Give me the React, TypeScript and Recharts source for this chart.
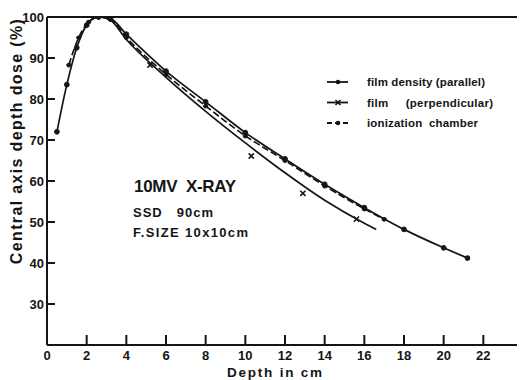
import React from 'react';
import { ComposedChart, Line, Scatter, XAxis, YAxis, ReferenceLine, Legend, Label } from 'recharts';

// ---- data ----
const depthParallel = [0.5, 1, 1.5, 2, 2.6, 3.2, 4, 6, 8, 10, 12, 14, 16, 18, 20, 21.2];
const doseParallel = [72, 83.5, 92.5, 98, 100, 99.6, 95.8, 86.8, 79.3, 71.8, 65.4, 59.2, 53.5, 48.2, 43.7, 41.2];

const depthPerp = [2, 2.6, 3.2, 4, 6, 8, 10, 12, 14, 16, 16.6];
const dosePerp = [98.6, 100, 99.2, 94.5, 85.3, 77, 69.3, 62, 55.3, 49.7, 48.2];
const depthPerpMarks = [5.2, 10.3, 12.9, 15.6];
const dosePerpMarks = [88.3, 66.1, 57, 50.7];

const depthIon = [1.1, 1.6, 2.1, 2.6, 3.2, 4, 6, 8, 10, 12, 14, 16, 17];
const doseIon = [88.3, 95, 98.8, 100, 99.4, 95, 86, 78.3, 71, 65, 58.8, 53.2, 50.7];

const xTicks = [0, 2, 4, 6, 8, 10, 12, 14, 16, 18, 20, 22];
const yTicks = [30, 40, 50, 60, 70, 80, 90, 100];
const xTickMarks = [2, 4, 6, 8, 10, 12, 14, 16, 18, 20, 22];
const yTickMarks = [30, 40, 50, 60, 70, 80, 90];

const seriesNames = ['film density (parallel)', 'film     (perpendicular)', 'ionization  chamber'];
const xTitle = 'Depth in cm';
const yTitle = 'Central axis depth dose (%)';
const noteLines = ['10MV  X-RAY', 'SSD   90cm', 'F.SIZE 10x10cm'];

const zip = (xs: number[], ys: number[]) => xs.map((d, i) => ({ depth: d, dose: ys[i] }));
const parallelData = zip(depthParallel, doseParallel);
const perpData = zip(depthPerp, dosePerp);
const perpMarkData = zip(depthPerpMarks, dosePerpMarks);
const ionData = zip(depthIon, doseIon);

const X_MIN = 0;
const X_MAX = 24;
const Y_MIN = 20;
const Y_MAX = 100;

// chart layout
const W = 517;
const H = 372;
const MARGIN = { top: 9, right: 2, bottom: 0, left: 0 };
const Y_AXIS_W = 39;
const X_AXIS_H = 35;
const PL = MARGIN.left + Y_AXIS_W;
const PR = W - MARGIN.right;
const PT = MARGIN.top;
const PB = H - MARGIN.bottom - X_AXIS_H;
const sx = (v: number) => PL + ((v - X_MIN) / (X_MAX - X_MIN)) * (PR - PL);
const sy = (v: number) => PB - ((v - Y_MIN) / (Y_MAX - Y_MIN)) * (PB - PT);

const INK = '#151515';
const FONT = '"Liberation Sans", Arial, sans-serif';

const XTick = (props: any) => {
  const x = Number(props.x);
  const y = Number(props.y);
  return (
    <text x={x} y={y + 15} textAnchor="middle" fontFamily={FONT} fontSize={13} fontWeight={700} fill={INK}>
      {props.payload?.value}
    </text>
  );
};

const YTick = (props: any) => {
  const x = Number(props.x);
  const y = Number(props.y);
  return (
    <text x={x - 3} y={y + 4.5} textAnchor="end" fontFamily={FONT} fontSize={13} fontWeight={700} fill={INK}>
      {props.payload?.value}
    </text>
  );
};

const XMark = (props: any) => {
  const { cx, cy } = props;
  if (cx == null || cy == null) return <g />;
  const s = 2.6;
  return (
    <path
      d={`M${cx - s},${cy - s}L${cx + s},${cy + s}M${cx - s},${cy + s}L${cx + s},${cy - s}`}
      stroke={INK}
      strokeWidth={1.6}
      fill="none"
    />
  );
};

const LegendBox = () => {
  const rows = [
    { dash: undefined as string | undefined, mark: 'dot' },
    { dash: undefined as string | undefined, mark: 'x' },
    { dash: '5 3', mark: 'dot' },
  ];
  const textWidths = [118, 126, 111];
  return (
    <svg width={190} height={60} style={{ display: 'block', overflow: 'visible' }}>
      {rows.map((r, i) => {
        const cy = 8 + i * 20.5;
        return (
          <g key={i}>
            <line x1={1} x2={22} y1={cy} y2={cy} stroke={INK} strokeWidth={1.8} strokeDasharray={r.dash} />
            {r.mark === 'dot' ? (
              <circle cx={12} cy={cy} r={2.3} fill={INK} />
            ) : (
              <path d={`M${9.5},${cy - 2.5}L${14.5},${cy + 2.5}M${9.5},${cy + 2.5}L${14.5},${cy - 2.5}`} stroke={INK} strokeWidth={1.6} />
            )}
            <text
              x={41}
              y={cy + 4}
              fontFamily={FONT}
              fontSize={11.5}
              fontWeight={700}
              fill={INK}
              textLength={textWidths[i]}
              lengthAdjust="spacing"
              style={{ whiteSpace: 'pre' }}
            >
              {seriesNames[i]}
            </text>
          </g>
        );
      })}
    </svg>
  );
};

export default function App() {
  return (
    <div style={{ position: 'relative', width: W, height: H }}>
      <ComposedChart width={W} height={H} margin={MARGIN}>
        <XAxis
          type="number"
          dataKey="depth"
          domain={[X_MIN, X_MAX]}
          ticks={xTicks}
          interval={0}
          tickSize={0}
          tickMargin={0}
          tickLine={false}
          tick={XTick}
          axisLine={{ stroke: INK, strokeWidth: 2 }}
          height={X_AXIS_H}
          allowDataOverflow
        >
          <Label
            content={(p: any) => {
              const vb = p.viewBox || { x: PL, y: PB, width: PR - PL };
              return (
                <text
                  x={vb.x + vb.width * 0.478}
                  y={vb.y + 32}
                  textAnchor="middle"
                  fontFamily={FONT}
                  fontSize={13.5}
                  fontWeight={700}
                  fill={INK}
                  textLength={95}
                  lengthAdjust="spacing"
                >
                  {xTitle}
                </text>
              );
            }}
          />
        </XAxis>
        <YAxis
          type="number"
          dataKey="dose"
          domain={[Y_MIN, Y_MAX]}
          ticks={yTicks}
          interval={0}
          width={Y_AXIS_W}
          tickSize={0}
          tickMargin={0}
          tickLine={false}
          tick={YTick}
          axisLine={{ stroke: INK, strokeWidth: 2 }}
          allowDataOverflow
        >
          <Label
            content={(p: any) => {
              const vb = p.viewBox || { x: 0, y: PT, width: Y_AXIS_W, height: PB - PT };
              const cx = vb.x + 9;
              const cy = vb.y + vb.height * 0.38;
              return (
                <text
                  x={cx}
                  y={cy}
                  transform={`rotate(-90, ${cx}, ${cy})`}
                  textAnchor="middle"
                  dominantBaseline="central"
                  fontFamily={FONT}
                  fontSize={16}
                  fontWeight={700}
                  fill={INK}
                  textLength={245}
                  lengthAdjust="spacing"
                >
                  {yTitle}
                </text>
              );
            }}
          />
        </YAxis>
        <ReferenceLine y={Y_MAX} stroke={INK} strokeWidth={2} />
        <ReferenceLine x={X_MAX} stroke={INK} strokeWidth={1.5} />
        <Line
          data={parallelData}
          dataKey="dose"
          name={seriesNames[0]}
          type="monotone"
          stroke={INK}
          strokeWidth={1.7}
          dot={{ r: 2.4, fill: INK, stroke: INK, strokeWidth: 1 }}
          isAnimationActive={false}
        />
        <Line
          data={ionData}
          dataKey="dose"
          name={seriesNames[2]}
          type="monotone"
          stroke={INK}
          strokeWidth={1.7}
          strokeDasharray="7 3"
          dot={{ r: 2.1, fill: INK, stroke: INK, strokeWidth: 1 }}
          isAnimationActive={false}
        />
        <Line
          data={perpData}
          dataKey="dose"
          name={seriesNames[1]}
          type="monotone"
          stroke={INK}
          strokeWidth={1.7}
          dot={false}
          isAnimationActive={false}
        />
        <Scatter
          data={perpMarkData}
          dataKey="dose"
          name={seriesNames[1]}
          shape={(p: any) => <XMark {...p} />}
          isAnimationActive={false}
        />
        <Legend
          layout="vertical"
          align="center"
          verticalAlign="middle"
          content={() => <LegendBox />}
          wrapperStyle={{ left: 318, top: 66, width: 190 }}
        />
      </ComposedChart>
      <svg
        width={W}
        height={H}
        style={{ position: 'absolute', left: 0, top: 0, pointerEvents: 'none' }}
      >
        {/* inward axis tick marks, placed from the axis tick values */}
        {xTickMarks.map((v) => (
          <line key={`xt${v}`} x1={sx(v)} x2={sx(v)} y1={PB} y2={PB - 10} stroke={INK} strokeWidth={2} />
        ))}
        {yTickMarks.map((v) => (
          <line key={`yt${v}`} x1={PL} x2={PL + 8} y1={sy(v)} y2={sy(v)} stroke={INK} strokeWidth={2} />
        ))}
        <text x={126} y={184} fontFamily={FONT} fontSize={17} fontWeight={700} fill={INK} textLength={102} lengthAdjust="spacing" style={{ whiteSpace: 'pre' }}>
          {noteLines[0]}
        </text>
        <text x={125} y={209} fontFamily={FONT} fontSize={13} fontWeight={700} fill={INK} textLength={80} lengthAdjust="spacing" style={{ whiteSpace: 'pre' }}>
          {noteLines[1]}
        </text>
        <text x={125} y={229} fontFamily={FONT} fontSize={13} fontWeight={700} fill={INK} textLength={115} lengthAdjust="spacing" style={{ whiteSpace: 'pre' }}>
          {noteLines[2]}
        </text>
      </svg>
    </div>
  );
}
